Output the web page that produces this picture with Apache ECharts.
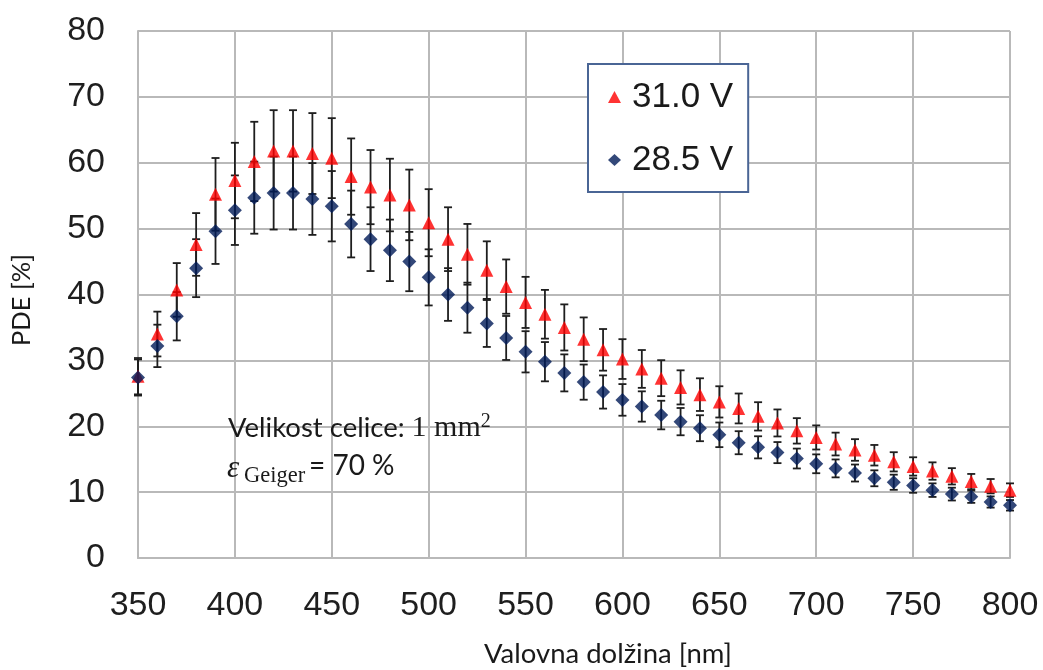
<!DOCTYPE html>
<html><head><meta charset="utf-8">
<script src="https://cdn.jsdelivr.net/npm/echarts@6/dist/echarts.min.js"></script>
<style>html,body{margin:0;padding:0;background:#fff}#c{width:1043px;height:670px}</style>
</head><body><div id="c"></div>
<script>
// ---- data ----
const wavelengths = [350,360,370,380,390,400,410,420,430,440,450,460,470,480,490,500,510,520,530,540,550,560,570,580,590,600,610,620,630,640,650,660,670,680,690,700,710,720,730,740,750,760,770,780,790,800];
const pde31 = [27.6,34.0,40.7,47.6,55.2,57.3,60.2,61.8,61.8,61.4,60.7,57.9,56.3,55.1,53.6,50.9,48.4,46.1,43.7,41.2,38.8,37.0,35.0,33.2,31.6,30.2,28.7,27.3,25.9,24.8,23.7,22.7,21.5,20.5,19.3,18.3,17.3,16.4,15.6,14.6,13.9,13.2,12.4,11.6,10.9,10.3];
const pde285 = [27.4,32.2,36.7,44.0,49.6,52.8,54.7,55.4,55.4,54.5,53.4,50.7,48.4,46.7,45.0,42.6,40.0,38.0,35.6,33.4,31.3,29.8,28.1,26.7,25.2,24.0,23.0,21.7,20.7,19.7,18.7,17.5,16.8,16.0,15.1,14.3,13.6,12.9,12.1,11.5,11.0,10.3,9.7,9.3,8.5,8.0];
const relErr = 0.10; // error bars read as ±10 % of each value
const seriesNames = ['31.0 V', '28.5 V'];
const xName = 'Valovna dolžina [nm]';
const yName = 'PDE [%]';

// ---- build ----
function errData(vals) {
  return wavelengths.map((w, i) => [w, vals[i] * (1 - relErr), vals[i] * (1 + relErr)]);
}
function errRender(params, api) {
  const x = api.value(0), lo = api.value(1), hi = api.value(2);
  const pHi = api.coord([x, hi]), pLo = api.coord([x, lo]);
  const cw = 4;
  const st = { stroke: '#1e1e1e', lineWidth: 1.8 };
  return { type: 'group', children: [
    { type: 'line', shape: { x1: pHi[0], y1: pHi[1], x2: pLo[0], y2: pLo[1] }, style: st },
    { type: 'line', shape: { x1: pHi[0] - cw, y1: pHi[1], x2: pHi[0] + cw, y2: pHi[1] }, style: st },
    { type: 'line', shape: { x1: pLo[0] - cw, y1: pLo[1], x2: pLo[0] + cw, y2: pLo[1] }, style: st }
  ]};
}
const gridColor = '#b9b9b9';
const tickFont = { fontFamily: 'Liberation Sans', fontSize: 34, color: '#1e1e1e' };
const chart = echarts.init(document.getElementById('c'), null, { renderer: 'canvas' });
chart.setOption({
  animation: false,
  backgroundColor: '#fff',
  grid: { left: 138, right: 33, top: 31, bottom: 112, containLabel: false, outerBoundsMode: 'none' },
  xAxis: {
    type: 'value', min: 350, max: 800, interval: 50,
    axisLine: { show: true, lineStyle: { color: gridColor, width: 2 } },
    axisTick: { show: false },
    splitLine: { show: true, lineStyle: { color: gridColor, width: 2 } },
    axisLabel: Object.assign({ margin: 31 }, tickFont)
  },
  yAxis: {
    type: 'value', min: 0, max: 80, interval: 10,
    axisLine: { show: true, lineStyle: { color: gridColor, width: 2 } },
    axisTick: { show: false },
    splitLine: { show: true, lineStyle: { color: gridColor, width: 2 } },
    axisLabel: Object.assign({ margin: 33 }, tickFont)
  },
  legend: {
    data: seriesNames, orient: 'vertical', left: 588, top: 64,
    padding: [13, 15, 12, 20], itemGap: 23, itemWidth: 13, itemHeight: 12,
    borderColor: '#4a6595', borderWidth: 2, backgroundColor: '#fff',
    textStyle: { fontFamily: 'Liberation Sans', fontSize: 35, color: '#1a1a1a', lineHeight: 40, padding: [0, 0, 0, 6] }
  },
  series: [
    { type: 'custom', name: 'err31', renderItem: errRender, data: errData(pde31), encode: { x: 0, y: [1, 2] }, z: 1, silent: true },
    { type: 'custom', name: 'err285', renderItem: errRender, data: errData(pde285), encode: { x: 0, y: [1, 2] }, z: 1, silent: true },
    { type: 'scatter', name: seriesNames[0], symbol: 'triangle', symbolSize: 13,
      itemStyle: { color: '#ff0000' }, data: wavelengths.map((w, i) => [w, pde31[i]]), z: 3 },
    { type: 'scatter', name: seriesNames[1], symbol: 'diamond', symbolSize: 14,
      itemStyle: { color: '#001a57' }, data: wavelengths.map((w, i) => [w, pde285[i]]), z: 4 }
  ],
  graphic: [
    { type: 'text', x: 608, y: 654, style: { text: xName, fontFamily: 'Lato', fontSize: 27.5, fill: '#1a1a1a', align: 'center', verticalAlign: 'middle' } },
    { type: 'text', x: 22, y: 300, rotation: Math.PI / 2, style: { text: yName, fontFamily: 'Lato', fontSize: 25.5, fill: '#1a1a1a', align: 'center', verticalAlign: 'middle' } },
    { type: 'text', x: 228, y: 428, z: 10, style: {
        text: '{a|Velikost celice: }{b|1 mm}{s|2}',
        align: 'left', verticalAlign: 'middle',
        rich: {
          a: { fontFamily: 'Lato', fontSize: 27.5, fill: '#1a1a1a', lineHeight: 32 },
          b: { fontFamily: 'Liberation Serif', fontSize: 30, fill: '#1a1a1a', lineHeight: 32 },
          s: { fontFamily: 'Liberation Serif', fontSize: 20, fill: '#1a1a1a', lineHeight: 32, verticalAlign: 'top' }
        } } },
    { type: 'text', x: 227, y: 469, z: 10, style: { text: 'ε', fontFamily: 'Liberation Serif', fontStyle: 'italic', fontSize: 31, fill: '#1a1a1a', align: 'left', verticalAlign: 'middle' } },
    { type: 'text', x: 244, y: 476, z: 10, style: { text: 'Geiger', fontFamily: 'Liberation Serif', fontSize: 22.5, fill: '#1a1a1a', align: 'left', verticalAlign: 'middle' } },
    { type: 'text', x: 309, y: 466, z: 10, style: { text: '= 70 %', fontFamily: 'Lato', fontSize: 28, fill: '#1a1a1a', align: 'left', verticalAlign: 'middle' } }
  ]
});
</script>
</body></html>
